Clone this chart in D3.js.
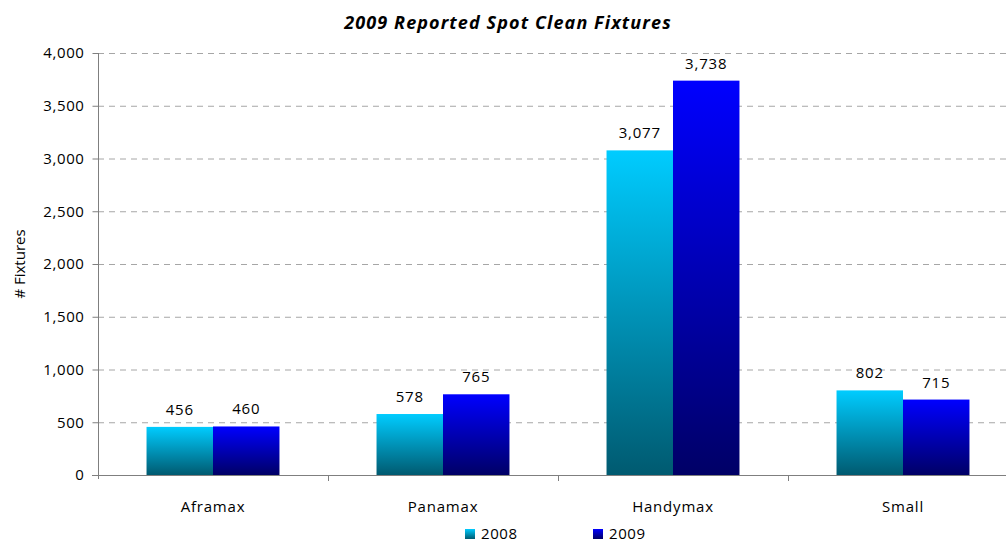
<!DOCTYPE html>
<html>
<head>
<meta charset="utf-8">
<script src="https://cdn.jsdelivr.net/npm/d3@7"></script>
<style>
  body { margin: 0; background: #fff; }
  text { font-family: "Open Sans", sans-serif; fill: #000; }
</style>
</head>
<body>
<div id="chart"></div>
<script>
// Chart data
const categories = ["Aframax", "Panamax", "Handymax", "Small"];
const seriesNames = ["2008", "2009"];
const values2008 = [456, 578, 3077, 802];
const values2009 = [460, 765, 3738, 715];
const yTicks = [0, 500, 1000, 1500, 2000, 2500, 3000, 3500, 4000];

const width = 1006, height = 544;
const margin = { top: 53, right: -12, bottom: 69, left: 98 };

const svg = d3.select("#chart").append("svg")
  .attr("width", width)
  .attr("height", height);

// Gradients per series
const defs = svg.append("defs");
const gradColors = [
  ["#00ccff", "#005a70"],
  ["#0000ff", "#000066"]
];
gradColors.forEach((c, i) => {
  const g = defs.append("linearGradient")
    .attr("id", "grad" + i)
    .attr("x1", 0).attr("y1", 0).attr("x2", 0).attr("y2", 1);
  g.append("stop").attr("offset", "0%").attr("stop-color", c[0]);
  g.append("stop").attr("offset", "100%").attr("stop-color", c[1]);
});

const x = d3.scaleBand()
  .domain(categories)
  .range([margin.left, width - margin.right]);

const xInner = d3.scaleBand()
  .domain(seriesNames)
  .range([0, x.bandwidth() * 0.578])
  .padding(0);

const y = d3.scaleLinear()
  .domain([0, 4000])
  .range([height - margin.bottom, margin.top]);

// Grid lines
svg.append("g")
  .selectAll("line")
  .data(yTicks.filter(d => d > 0))
  .enter().append("line")
  .attr("x1", margin.left)
  .attr("x2", width)
  .attr("y1", d => y(d) + 0.5)
  .attr("y2", d => y(d) + 0.5)
  .attr("stroke", "#a6a6a6")
  .attr("stroke-width", 1)
  .attr("stroke-dasharray", "6,5");

// Bars
const data = categories.map((c, i) => ({
  cat: c,
  vals: [values2008[i], values2009[i]]
}));
const offset = (x.bandwidth() - xInner.range()[1]) / 2;

const groups = svg.selectAll(".grp")
  .data(data)
  .enter().append("g")
  .attr("transform", d => `translate(${x(d.cat) + offset},0)`);

groups.selectAll("rect")
  .data(d => d.vals.map((v, i) => ({ v, i })))
  .enter().append("rect")
  .attr("x", d => xInner(seriesNames[d.i]))
  .attr("y", d => y(d.v))
  .attr("width", xInner.bandwidth())
  .attr("height", d => y(0) - y(d.v))
  .attr("fill", d => `url(#grad${d.i})`);

groups.selectAll(".lbl")
  .data(d => d.vals.map((v, i) => ({ v, i })))
  .enter().append("text")
  .attr("class", "lbl")
  .attr("x", d => xInner(seriesNames[d.i]) + xInner.bandwidth() / 2)
  .attr("y", d => y(d.v) - 12)
  .attr("text-anchor", "middle")
  .style("font-size", "15px")
  .style("letter-spacing", "0.8px")
  .text(d => d3.format(",")(d.v));

// Y axis
const yAxis = d3.axisLeft(y)
  .tickValues(yTicks)
  .tickFormat(d3.format(","))
  .tickSizeOuter(0)
  .tickSize(6)
  .tickPadding(8);

const gy = svg.append("g")
  .attr("transform", `translate(${margin.left + 0.5},0)`)
  .call(yAxis);
gy.select(".domain").attr("stroke", "#7f7f7f").attr("d", `M0,${y(4000)}V${y(0) + 4}`);
gy.selectAll(".tick line").attr("stroke", "#7f7f7f");
gy.selectAll(".tick text").style("font-size", "15px").style("letter-spacing", "0.6px").attr("fill", "#000");

// X axis
const xAxis = d3.axisBottom(x).tickSize(0).tickPadding(0).tickSizeOuter(0);
const gx = svg.append("g")
  .attr("transform", `translate(0,${y(0) + 0.5})`)
  .call(xAxis);
gx.select(".domain").attr("stroke", "#7f7f7f").attr("d", `M${margin.left - 6},0H${width}`);
gx.selectAll(".tick text")
  .attr("dy", null)
  .attr("y", 36)
  .style("font-size", "15px")
  .style("letter-spacing", "0.8px")
  .attr("fill", "#000");

// Category separator ticks
svg.append("g")
  .selectAll("line")
  .data(categories.slice(1))
  .enter().append("line")
  .attr("x1", d => Math.round(x(d)) + 0.5)
  .attr("x2", d => Math.round(x(d)) + 0.5)
  .attr("y1", y(0))
  .attr("y2", y(0) + 6)
  .attr("stroke", "#7f7f7f");

// Title
svg.append("text")
  .attr("x", 508)
  .attr("y", 29)
  .attr("text-anchor", "middle")
  .style("font-size", "18px")
  .style("font-weight", "bold")
  .style("font-style", "italic")
  .style("letter-spacing", "1.1px")
  .text("2009 Reported Spot Clean Fixtures");

// Y axis label
svg.append("text")
  .attr("transform", `translate(25,${(y(0) + y(4000)) / 2}) rotate(-90)`)
  .attr("text-anchor", "middle")
  .style("font-size", "15px")
  .text("# Fixtures");

// Legend
const legendX = [465, 593];
const legend = svg.selectAll(".leg")
  .data(seriesNames)
  .enter().append("g")
  .attr("transform", (d, i) => `translate(${legendX[i]},529)`);
legend.append("rect")
  .attr("width", 10).attr("height", 10)
  .attr("fill", (d, i) => `url(#grad${i})`);
legend.append("text")
  .attr("x", 16).attr("y", 10)
  .style("font-size", "15px")
  .style("letter-spacing", "0.6px")
  .text(d => d);
</script>
</body>
</html>
